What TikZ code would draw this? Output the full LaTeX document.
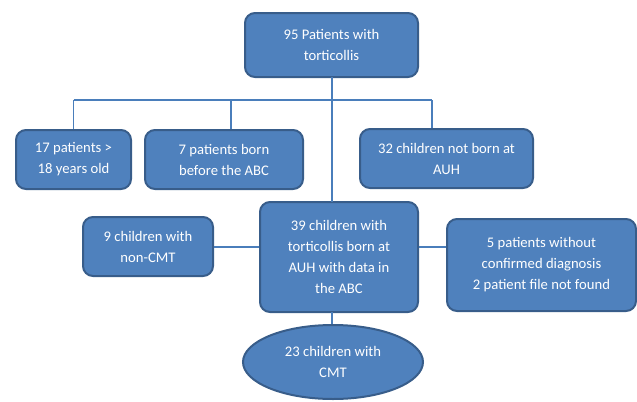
\documentclass[tikz,border=0pt]{standalone}
\usepackage{fontspec}
\setmainfont{Carlito}
\usetikzlibrary{shapes.geometric}
\definecolor{boxfill}{HTML}{4F81BD}
\definecolor{boxline}{HTML}{385D8A}
\definecolor{conn}{HTML}{4A7EBB}
\begin{document}
\begin{tikzpicture}[x=0.75pt,y=-0.75pt,
  box/.style={draw=boxline,fill=boxfill,line width=1.5pt,rounded corners=7.5pt,
    text=white,align=center,inner sep=0pt,font=\fontsize{11}{15.75}\selectfont},
  oval/.style={ellipse,draw=boxline,fill=boxfill,line width=1.5pt,
    text=white,align=center,inner sep=0pt,font=\fontsize{11}{15.75}\selectfont},
  link/.style={draw=conn,line width=1pt}]
\useasboundingbox (0,0) rectangle (637,401);
\node[box,minimum width=129.75pt,minimum height=48pt] (top) at (331.5,45) {95 Patients with\\torticollis};
\node[box,minimum width=86.25pt,minimum height=44.25pt] (b17) at (73.5,159.5) {17 patients >\\18 years old};
\node[box,minimum width=118.5pt,minimum height=44.25pt] (b7) at (224,159.5) {7 patients born\\before the ABC};
\node[box,minimum width=129.75pt,minimum height=44.25pt] (b32) at (446.5,158.5) {32 children not born at\\AUH};
\node[box,minimum width=118.5pt,minimum height=82.5pt] (b39) at (339,257) {39 children with\\torticollis born at\\AUH with data in\\the ABC};
\node[box,minimum width=97.5pt,minimum height=44.25pt] (b9) at (148,246.5) {9 children with\\non-CMT};
\node[box,minimum width=141.75pt,minimum height=69pt] (b5) at (541.5,265) {5 patients without\\confirmed diagnosis\\2 patient file not found};
\node[oval,minimum width=135pt,minimum height=55.5pt] (cmt) at (333,362) {23 children with\\CMT};
% connectors
\coordinate (h17) at (73.5,100);
\coordinate (h7) at (231,100);
\coordinate (h32) at (432,100);
\coordinate (t39) at (332,202);
\coordinate (t77) at (332,77);
\draw[link] (h17) -- (h32);
\draw[link] (h17) -- (b17.north);
\draw[link] (h7) -- (h7 |- b7.north);
\draw[link] (h32) -- (h32 |- b32.north);
\draw[link] (t77) -- (t39);
\draw[link] (b9.east |- 0,247) -- (b39.west |- 0,247);
\draw[link] (b39.east |- 0,247) -- (b5.west |- 0,247);
\draw[link] (332,312) -- (cmt.north -| 332,0);
\end{tikzpicture}
\end{document}
